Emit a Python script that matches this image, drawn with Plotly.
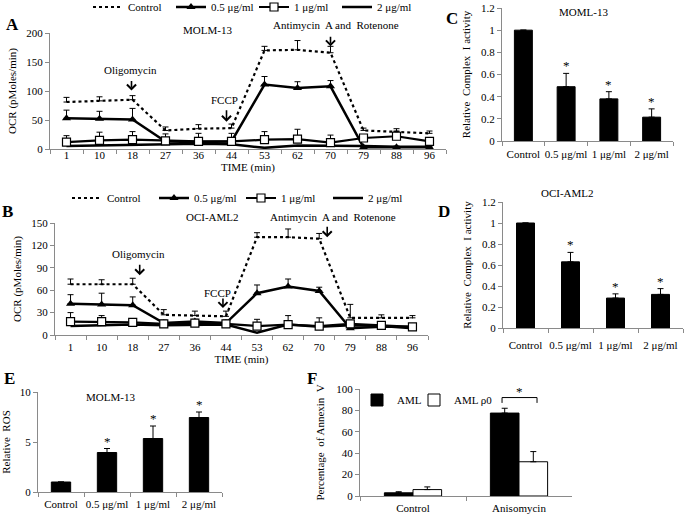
import plotly.graph_objects as go

W, H = 685, 517
SERIF = "Liberation Serif, Times New Roman, DejaVu Serif, serif"

# ---------------- data ----------------
time_labels = ["1", "10", "18", "27", "36", "44", "53", "62", "70", "79", "88", "96"]

# Panel A (MOLM-13 OCR)
ctrl_A = [81, 83, 85, 32, 35, 36, 170, 171, 166, 32, 30, 27]
ctrl_A_err = [8, 7, 7, 6, 7, 7, 7, 16, 11, 4, 5, 4]
d05_A = [53, 52, 51, 13, 12, 13, 111, 105, 108, 3, 3, 3]
d05_A_err = [14, 13, 19, 3, 3, 3, 14, 11, 10, 2, 2, 2]
d1_A = [12, 15, 16, 14, 13, 13, 16, 17, 11, 19, 22, 13]
d1_A_err = [11, 14, 14, 12, 14, 14, 14, 17, 13, 6, 9, 5]
d2_A = [5, 6, 7, 9, 9, 8, 2, 6, 6, 5, 4, 4]

# Panel B (OCI-AML2 OCR)
ctrl_B = [68, 68, 68, 27, 26, 25, 131, 131, 129, 23, 23, 23]
ctrl_B_err = [7, 6, 8, 7, 6, 7, 6, 11, 7, 18, 4, 3]
d05_B = [42, 41, 40, 16, 18, 16, 56, 65, 59, 9, 11, 11]
d05_B_err = [12, 15, 11, 2, 2, 2, 11, 10, 5, 2, 2, 2]
d1_B = [18, 18, 17, 15, 16, 15, 12, 14, 12, 15, 13, 11]
d1_B_err = [12, 8, 5, 5, 5, 5, 9, 12, 11, 4, 3, 3]
d2_B = [12, 13, 14, 13, 13, 14, 3, 14, 11, 13, 12, 9]

dose_labels = ["Control", "0.5 μg/ml", "1 μg/ml", "2 μg/ml"]

# Panel C (MOML-13 complex I)
complex_C = [1.0, 0.49, 0.38, 0.215]
complex_C_err = [0, 0.12, 0.065, 0.075]
# Panel D (OCI-AML2 complex I)
complex_D = [1.0, 0.63, 0.285, 0.32]
complex_D_err = [0, 0.09, 0.04, 0.055]
# Panel E (MOLM-13 ROS)
ros_E = [1.0, 3.95, 5.35, 7.45]
ros_E_err = [0, 0.4, 1.25, 0.55]
# Panel F (Annexin V)
treat_labels = ["Control", "Anisomycin"]
annexin_aml = [3, 77.5]
annexin_aml_err = [1, 4.5]
annexin_rho0 = [6, 32]
annexin_rho0_err = [2.5, 9.5]


def px_x(x):
    return x / W


def px_y(y):
    return 1 - y / H


def err_up(vals):
    return dict(type="data", symmetric=False, array=vals, arrayminus=[0] * len(vals),
                color="black", thickness=1, width=3)


FS = 11
font_t = dict(family=SERIF, size=FS, color="black")

fig = go.Figure()


def add_ocr(xa, ya, leg, ctrl, ctrl_e, d05, d05_e, d1, d1_e, d2):
    fig.add_trace(go.Scatter(x=time_labels, y=ctrl, name="Control", mode="lines",
                             line=dict(color="black", width=2.2, dash="dot"),
                             error_y=err_up(ctrl_e), xaxis=xa, yaxis=ya, legend=leg, legendrank=1))
    fig.add_trace(go.Scatter(x=time_labels, y=d05, name="0.5 μg/ml", mode="lines+markers",
                             line=dict(color="black", width=2.5),
                             marker=dict(symbol="triangle-up", size=8, color="black"),
                             error_y=err_up(d05_e), xaxis=xa, yaxis=ya, legend=leg, legendrank=2))
    fig.add_trace(go.Scatter(x=time_labels, y=d2, name="2 μg/ml", mode="lines",
                             line=dict(color="black", width=2.5),
                             xaxis=xa, yaxis=ya, legend=leg, legendrank=4))
    fig.add_trace(go.Scatter(x=time_labels, y=d1, name="1 μg/ml", mode="lines+markers",
                             line=dict(color="black", width=2.2),
                             marker=dict(symbol="square", size=8, color="white",
                                         line=dict(color="black", width=1.2)),
                             error_y=err_up(d1_e), xaxis=xa, yaxis=ya, legend=leg, legendrank=3))


add_ocr("x", "y", "legend", ctrl_A, ctrl_A_err, d05_A, d05_A_err, d1_A, d1_A_err, d2_A)
add_ocr("x2", "y2", "legend2", ctrl_B, ctrl_B_err, d05_B, d05_B_err, d1_B, d1_B_err, d2_B)

# bar panels
for vals, errs, xa, ya, w in [(complex_C, complex_C_err, "x3", "y3", 0.42),
                              (complex_D, complex_D_err, "x4", "y4", 0.40),
                              (ros_E, ros_E_err, "x5", "y5", 0.42)]:
    fig.add_trace(go.Bar(x=dose_labels, y=vals, width=w, marker=dict(color="black", line=dict(color="black", width=1)),
                         error_y=err_up(errs), xaxis=xa, yaxis=ya, showlegend=False))

fig.add_trace(go.Bar(x=treat_labels, y=annexin_aml, name="AML", width=0.27, offset=-0.27,
                     marker=dict(color="black", line=dict(color="black", width=1)),
                     error_y=err_up(annexin_aml_err), xaxis="x6", yaxis="y6", legend="legend3"))
fig.add_trace(go.Bar(x=treat_labels, y=annexin_rho0, name="AML ρ0", width=0.27, offset=0,
                     marker=dict(color="white", line=dict(color="black", width=1)),
                     error_y=err_up(annexin_rho0_err), xaxis="x6", yaxis="y6", legend="legend4"))

# ---------------- axes ----------------
axcol = "#8a8a8a"


def xcat(x0, x1, n, title=None, standoff=4, lab_off=0):
    d = dict(domain=[px_x(x0), px_x(x1)], type="category", showline=True, linecolor=axcol,
             ticks="outside", tickson="boundaries", ticklen=4, tickcolor=axcol, showgrid=False,
             zeroline=False, tickfont=font_t, automargin=False, fixedrange=True, tickangle=0,
             range=[-0.5, n - 0.5], ticklabelstandoff=lab_off)
    if title:
        d["title"] = dict(text=title, font=font_t, standoff=standoff)
    return d


def ylin(y_top, y_bot, rng, dtick, title, standoff=4):
    d = dict(domain=[px_y(y_bot), px_y(y_top)], range=rng, dtick=dtick, tick0=0, showline=True,
             linecolor=axcol, ticks="outside", ticklen=4, tickcolor=axcol, showgrid=False,
             zeroline=False, tickfont=font_t, automargin=False, fixedrange=True,
             title=dict(text=title, font=font_t, standoff=standoff))
    return d


fig.update_layout(
    xaxis=xcat(50, 446, len(time_labels), "TIME (min)", 1, -4),
    yaxis=ylin(33, 149, [0, 200], 50, "OCR (pMoles/min)", 7),
    xaxis2=xcat(55, 428, len(time_labels), "TIME (min)", 1, 2),
    yaxis2=ylin(223, 335, [0, 150], 30, "OCR (pMoles/min)", 7),
    xaxis3=xcat(502, 673, len(dose_labels), lab_off=3),
    yaxis3=ylin(8, 141, [0, 1.2], 0.2, "Relative  Complex  I activity", 8),
    xaxis4=xcat(503, 683, len(dose_labels), lab_off=7),
    yaxis4=ylin(202, 328, [0, 1.2], 0.2, "Relative  Complex  I activity", 8),
    xaxis5=xcat(38, 222, len(dose_labels), lab_off=2),
    yaxis5=ylin(392, 492, [0, 10], 5, "Relative  ROS", 12),
    xaxis6=xcat(360, 572, len(treat_labels), lab_off=2),
    yaxis6=ylin(389, 496, [0, 100], 20, "Percentage  of Annexin  V", 9),
)
for i in ["", "2", "3", "4", "5", "6"]:
    fig.layout["xaxis" + i].anchor = "y" + i
    fig.layout["yaxis" + i].anchor = "x" + i

leg_common = dict(orientation="h", font=font_t, bgcolor="rgba(0,0,0,0)", itemwidth=30,
                  xanchor="left", yanchor="middle", traceorder="normal", itemclick=False)
fig.update_layout(
    legend=dict(leg_common, x=px_x(88), y=px_y(7), entrywidth=38),
    legend2=dict(leg_common, x=px_x(67), y=px_y(198), entrywidth=42),
    legend3=dict(leg_common, x=px_x(357), y=px_y(400)),
    legend4=dict(leg_common, x=px_x(414), y=px_y(400)),
)

# ---------------- annotations ----------------
ann = []


def txt(x, y, s, size=FS, bold=False):
    ann.append(dict(x=px_x(x), y=px_y(y), xref="paper", yref="paper", text=("<b>%s</b>" % s) if bold else s,
                    showarrow=False, font=dict(family=SERIF, size=size, color="black"),
                    xanchor="center", yanchor="middle"))


# panel letters
txt(12, 24, "A", 17, True)
txt(8, 211, "B", 17, True)
txt(452, 18, "C", 17, True)
txt(444, 211, "D", 17, True)
txt(9, 378, "E", 17, True)
txt(312, 378, "F", 17, True)

# titles
txt(207, 30, "MOLM-13")
txt(212, 217, "OCI-AML2")
txt(583, 12, "MOML-13")
txt(567, 193, "OCI-AML2")
txt(110, 397, "MOLM-13")

# event labels
txt(130, 70, "Oligomycin")
txt(224, 100, "FCCP")
txt(336, 25, "Antimycin  A and  Rotenone")
txt(138, 254, "Oligomycin")
txt(217, 293, "FCCP")
txt(333, 217, "Antimycin  A and  Rotenone")


def arrow(xa, ya, at, yhead, length, xshift=0):
    xi = time_labels.index(at)
    ann.append(dict(x=xi, y=yhead, xref=xa, yref=ya, text="", showarrow=True, ax=0, ay=-length,
                    arrowhead=4, arrowsize=1.1, arrowwidth=1.6, arrowcolor="black", xshift=xshift))


# panel A event arrows
arrow("x", "y", "18", 101, 11, -1)
arrow("x", "y", "44", 47, 13, -5)
arrow("x", "y", "70", 177, 11, 0)
# panel B event arrows
arrow("x2", "y2", "18", 80, 12, 7)
arrow("x2", "y2", "44", 36, 11, -3)
arrow("x2", "y2", "70", 131, 12, 8)

# significance stars
for vals, errs, xa, ya in [(complex_C, complex_C_err, "x3", "y3"),
                           (complex_D, complex_D_err, "x4", "y4"),
                           (ros_E, ros_E_err, "x5", "y5")]:
    for i in range(1, len(vals)):
        ann.append(dict(x=i, y=vals[i] + errs[i], xref=xa, yref=ya, text="*", showarrow=False,
                        font=dict(family=SERIF, size=13, color="black"), yanchor="bottom", yshift=-2))

# panel F bracket
ann.append(dict(x=1.0, y=91, xref="x6", yref="y6", text="*", showarrow=False,
                font=dict(family=SERIF, size=13, color="black"), yanchor="bottom", yshift=-2))
shapes = [dict(type="path", xref="x6", yref="y6",
               path="M 0.84 87 L 0.84 92 L 1.17 92 L 1.17 87",
               line=dict(color="black", width=1))]

fig.update_layout(annotations=ann, shapes=shapes, width=W, height=H,
                  margin=dict(l=0, r=0, t=0, b=0, autoexpand=False),
                  paper_bgcolor="white", plot_bgcolor="white",
                  font=dict(family=SERIF, size=FS, color="black"))

fig.write_html("out.html", config={"displayModeBar": False},
               post_script="document.body.style.margin='0';document.body.style.overflow='hidden';")
